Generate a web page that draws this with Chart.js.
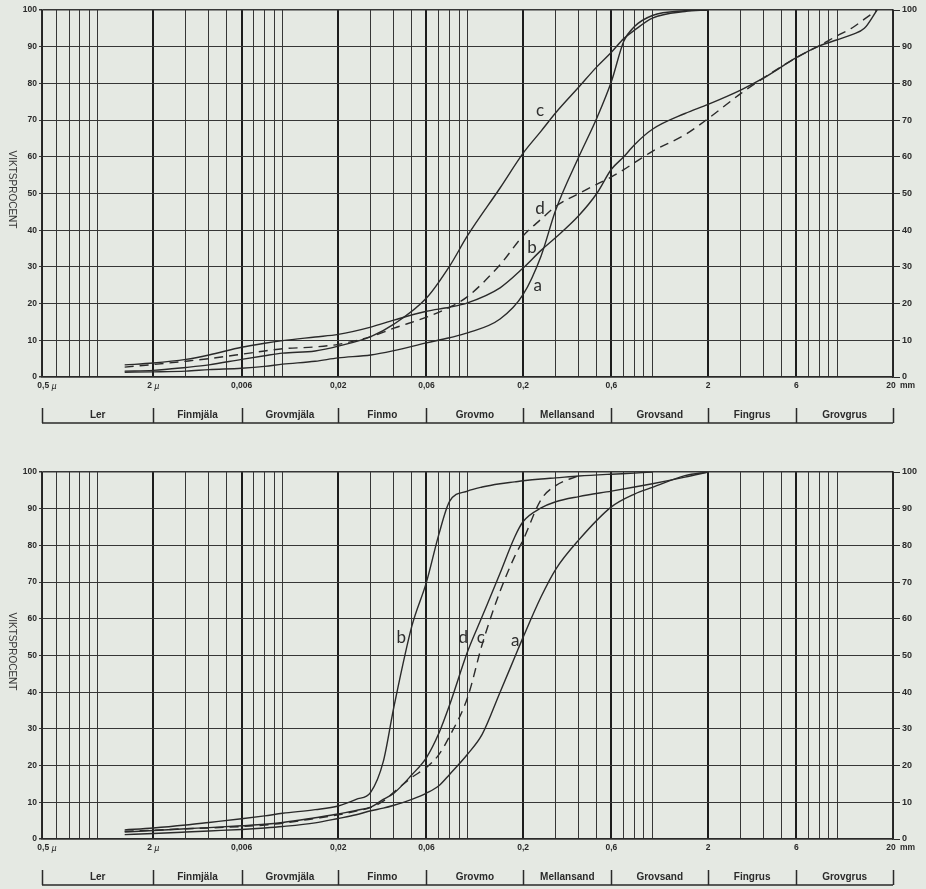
<!DOCTYPE html>
<html>
<head>
<meta charset="utf-8">
<script src="https://cdn.jsdelivr.net/npm/chart.js@4.4.1/dist/chart.umd.min.js"></script>
<style>
  html, body { margin: 0; padding: 0; background: #e5e9e3; }
  body { width: 926px; height: 889px; position: relative; overflow: hidden; }
  canvas { position: absolute; left: 0; }
  #upper { top: 0; }
  #lower { top: 460px; }
</style>
</head>
<body>
<canvas id="upper" width="926" height="440"></canvas>
<canvas id="lower" width="926" height="429"></canvas>
<script>
// ---- grain-size axis (mm) ----
const GRID_SIZES = [0.0005, 0.0006, 0.0007, 0.0008, 0.0009, 0.001,
  0.002, 0.003, 0.004, 0.005, 0.006, 0.007, 0.008, 0.009, 0.01,
  0.02, 0.03, 0.04, 0.05, 0.06, 0.07, 0.08, 0.09, 0.1,
  0.2, 0.3, 0.4, 0.5, 0.6, 0.7, 0.8, 0.9, 1,
  2, 3, 4, 5, 6, 7, 8, 9, 10, 20];
const FRACTION_LIMITS = [0.0005, 0.002, 0.006, 0.02, 0.06, 0.2, 0.6, 2, 6, 20];
const SIZE_TICK_LABELS = ['0,5 µ', '2 µ', '0,006', '0,02', '0,06', '0,2', '0,6', '2', '6', '20'];
const FRACTION_NAMES = ['Ler', 'Finmjäla', 'Grovmjäla', 'Finmo', 'Grovmo', 'Mellansand', 'Grovsand', 'Fingrus', 'Grovgrus'];

// ---- upper diagram: passing weight (%) per grain size ----
const UPPER_SIZES = [0.0014, 0.002, 0.003, 0.004, 0.006, 0.008, 0.01, 0.015, 0.02, 0.03, 0.04, 0.06, 0.08, 0.1,
  0.15, 0.2, 0.25, 0.3, 0.4, 0.5, 0.6, 0.7, 0.8, 1, 1.5, 2, 3, 4, 6, 8, 10, 12, 14, 16.4];
const UPPER_A = [1.3, 1.4, 1.6, 2.0, 2.4, 2.9, 3.5, 4.3, 5.2, 6.0, 7.2, 9.3, 10.7, 12.0,
  15.8, 22.5, 33.0, 45.5, 60.0, 70.5, 80.5, 91.5, 95.5, 98.5, 99.8, 100, null, null, null, null, null, null, null, null];
const UPPER_B = [3.3, 3.8, 4.8, 6.0, 8.1, 9.2, 9.9, 10.9, 11.6, 13.6, 15.5, 17.9, 19.0, 20.2,
  24.3, 29.7, 34.5, 38.0, 44.0, 50.0, 56.6, 60.0, 63.3, 67.5, 71.8, 74.3, 78.2, 81.5, 87.0, 90.2, 91.9, 93.3, 95.0, 100];
const UPPER_C = [1.6, 1.8, 2.6, 3.3, 4.8, 5.8, 6.5, 7.1, 8.4, 11.0, 14.4, 21.5, 30.2, 38.5,
  51.5, 61.0, 67.0, 72.0, 79.0, 84.5, 88.5, 92.2, 94.5, 97.8, 99.6, 100, null, null, null, null, null, null, null, null];
const UPPER_D = [2.7, 3.4, 4.3, 5.0, 6.2, 7.1, 7.7, 8.2, 8.9, 11.0, 13.3, 16.3, 19.0, 21.9,
  30.6, 38.5, 43.0, 46.5, 50.0, 52.5, 54.5, 56.5, 58.4, 61.5, 66.0, 70.4, 77.2, 81.5, 87.0, 90.3, 93.0, 95.1, 97.5, 100];

// ---- lower diagram ----
const LOWER_SIZES = [0.0014, 0.002, 0.003, 0.004, 0.006, 0.008, 0.01, 0.015, 0.02, 0.025, 0.03, 0.035, 0.04, 0.05,
  0.06, 0.07, 0.08, 0.1, 0.12, 0.15, 0.18, 0.2, 0.25, 0.3, 0.4, 0.6, 0.8, 1, 1.5, 2];
const LOWER_A = [1.2, 1.5, 1.9, 2.2, 2.6, 3.0, 3.4, 4.4, 5.6, 6.6, 7.7, 8.4, 9.2, 10.8,
  12.5, 14.5, 17.6, 23.1, 28.5, 40.0, 49.5, 55.0, 66.0, 73.5, 81.5, 90.5, 94.0, 95.8, 99.0, 100];
const LOWER_B = [2.5, 3.0, 3.8, 4.5, 5.5, 6.3, 7.0, 8.0, 9.0, 10.8, 12.8, 21.0, 36.0, 58.0,
  70.0, 83.0, 92.0, 94.8, 95.9, 96.8, 97.3, 97.6, 98.1, 98.4, 98.9, 99.4, 99.7, 100, null, null];
const LOWER_C = [2.1, 2.4, 2.8, 3.0, 3.4, 3.8, 4.3, 5.6, 6.6, 7.6, 8.6, 10.3, 12.8, 16.8,
  19.5, 23.0, 28.0, 38.5, 53.0, 67.5, 77.0, 81.5, 92.5, 96.3, 99.0, null, null, null, null, null];
const LOWER_D = [1.9, 2.3, 2.8, 3.1, 3.6, 4.0, 4.5, 5.8, 6.8, 7.8, 8.7, 10.8, 12.5, 17.5,
  22.2, 28.8, 36.5, 51.0, 60.6, 72.4, 82.3, 86.5, 90.2, 91.9, 93.3, 94.8, 95.9, 96.8, 98.6, 100];

const INK = '#2a2a2a';
const GRID_INK = '#363636';
const LABEL_FONT = '"Liberation Sans", Arial, sans-serif';

const nearly = (a, b) => Math.abs(a / b - 1) < 1e-6;
const isLimit = v => FRACTION_LIMITS.some(l => nearly(l, v));

// Draws the size labels, the fraction bracket, the axis title and the curve letters.
const paperPlugin = {
  id: 'paper',
  afterDraw(chart, args, opts) {
    const { ctx, chartArea: area, scales } = chart;
    const xs = scales.x, ys = scales.y;
    ctx.save();
    ctx.fillStyle = INK;
    ctx.strokeStyle = INK;

    // size labels under the diagram
    const ly = area.bottom + 9;
    ctx.textBaseline = 'middle';
    FRACTION_LIMITS.forEach((v, i) => {
      const px = xs.getPixelForValue(v);
      const label = SIZE_TICK_LABELS[i];
      ctx.font = 'bold 8.5px ' + LABEL_FONT;
      if (label.endsWith('µ')) {
        const num = label.slice(0, -1);
        const wNum = ctx.measureText(num).width;
        ctx.font = 'italic 9px ' + LABEL_FONT;
        const wMu = ctx.measureText('µ').width;
        const start = (i === 0 ? px + 5 : px) - (wNum + wMu) / 2;
        ctx.textAlign = 'left';
        ctx.font = 'bold 8.5px ' + LABEL_FONT;
        ctx.fillText(num, start, ly);
        ctx.font = 'italic 9px ' + LABEL_FONT;
        ctx.fillText('µ', start + wNum, ly);
      } else if (i === FRACTION_LIMITS.length - 1) {
        ctx.textAlign = 'center';
        ctx.fillText(label, px - 2, ly);
        ctx.textAlign = 'left';
        ctx.fillText('mm', px + 7, ly);
      } else {
        ctx.textAlign = 'center';
        ctx.fillText(label, px, ly);
      }
    });

    // fraction bracket
    const bTop = area.bottom + 31, bBot = area.bottom + 46;
    ctx.lineWidth = 1.5;
    ctx.beginPath();
    ctx.moveTo(xs.getPixelForValue(FRACTION_LIMITS[0]), bBot);
    ctx.lineTo(xs.getPixelForValue(FRACTION_LIMITS[FRACTION_LIMITS.length - 1]), bBot);
    FRACTION_LIMITS.forEach(v => {
      const px = Math.round(xs.getPixelForValue(v)) + 0.5;
      ctx.moveTo(px, bTop);
      ctx.lineTo(px, bBot);
    });
    ctx.stroke();
    ctx.font = 'bold 10px ' + LABEL_FONT;
    ctx.textAlign = 'center';
    FRACTION_NAMES.forEach((name, i) => {
      const a = xs.getPixelForValue(FRACTION_LIMITS[i]);
      const b = xs.getPixelForValue(FRACTION_LIMITS[i + 1]);
      ctx.fillText(name, (a + b) / 2, area.bottom + 38);
    });

    // axis title
    ctx.save();
    ctx.fillStyle = '#353535';
    ctx.font = '10px ' + LABEL_FONT;
    ctx.translate(12, (area.top + area.bottom) / 2 - 4);
    ctx.rotate(Math.PI / 2);
    ctx.textAlign = 'center';
    ctx.fillText('VIKTSPROCENT', 0, 0);
    ctx.restore();

    // curve letters
    ctx.font = '17px Lato, "Open Sans", sans-serif';
    ctx.fillStyle = '#2e2e2e';
    ctx.textAlign = 'center';
    (opts.tags || []).forEach(t => {
      ctx.fillText(t.text, xs.getPixelForValue(t.size), ys.getPixelForValue(t.pct));
    });
    ctx.restore();
  }
};

function makeSeries(sizes, values, dashed) {
  return {
    data: sizes.map((x, i) => ({ x, y: values[i] })).filter(p => p.y !== null),
    borderColor: INK,
    borderWidth: 1.4,
    borderDash: dashed ? [9, 6] : [],
    pointRadius: 0,
    fill: false,
    cubicInterpolationMode: 'monotone'
  };
}

function buildDiagram(canvasId, datasets, tags, padTop, xAxisHeight) {
  return new Chart(document.getElementById(canvasId), {
    type: 'line',
    data: { datasets },
    plugins: [paperPlugin],
    options: {
      responsive: false,
      animation: false,
      events: [],
      layout: { padding: { top: padTop, left: 0, right: 0, bottom: 0 } },
      plugins: { legend: { display: false }, tooltip: { enabled: false }, paper: { tags } },
      scales: {
        x: {
          type: 'logarithmic',
          min: 0.0005,
          max: 20,
          afterBuildTicks: s => { s.ticks = GRID_SIZES.map(v => ({ value: v })); },
          afterFit: s => { s.height = xAxisHeight; },
          ticks: { display: false },
          grid: {
            drawTicks: false,
            color: ctx => (ctx.tick && isLimit(ctx.tick.value)) ? '#1c1c1c' : GRID_INK,
            lineWidth: ctx => (ctx.tick && isLimit(ctx.tick.value)) ? 2 : 1
          },
          border: { display: true, color: INK, width: 1.6 }
        },
        y: {
          position: 'left',
          min: 0,
          max: 100,
          afterFit: s => { s.width = 42; },
          ticks: { stepSize: 10, color: INK, padding: 2, font: { family: LABEL_FONT, size: 8.5, weight: 'bold' } },
          grid: {
            color: GRID_INK,
            tickLength: 3,
            lineWidth: ctx => (ctx.tick && (ctx.tick.value === 0 || ctx.tick.value === 100)) ? 1.6 : 1
          },
          border: { display: true, color: INK, width: 1.6 }
        },
        y2: {
          position: 'right',
          min: 0,
          max: 100,
          afterFit: s => { s.width = 33; },
          ticks: { stepSize: 10, color: INK, padding: 2, font: { family: LABEL_FONT, size: 9, weight: 'bold' } },
          grid: { drawOnChartArea: false, color: INK, tickLength: 7, lineWidth: 1 },
          border: { display: true, color: INK, width: 1.6 }
        }
      }
    }
  });
}

buildDiagram('upper', [
  makeSeries(UPPER_SIZES, UPPER_A, false),
  makeSeries(UPPER_SIZES, UPPER_B, false),
  makeSeries(UPPER_SIZES, UPPER_C, false),
  makeSeries(UPPER_SIZES, UPPER_D, true)
], [
  { text: 'c', size: 0.247, pct: 72.5 },
  { text: 'd', size: 0.247, pct: 46 },
  { text: 'b', size: 0.223, pct: 35.4 },
  { text: 'a', size: 0.24, pct: 25 }
], 10, 63);

buildDiagram('lower', [
  makeSeries(LOWER_SIZES, LOWER_A, false),
  makeSeries(LOWER_SIZES, LOWER_B, false),
  makeSeries(LOWER_SIZES, LOWER_C, true),
  makeSeries(LOWER_SIZES, LOWER_D, false)
], [
  { text: 'b', size: 0.0438, pct: 55 },
  { text: 'd', size: 0.0948, pct: 54.8 },
  { text: 'c', size: 0.118, pct: 54.8 },
  { text: 'a', size: 0.181, pct: 54.2 }
], 12, 50);
</script>
</body>
</html>
